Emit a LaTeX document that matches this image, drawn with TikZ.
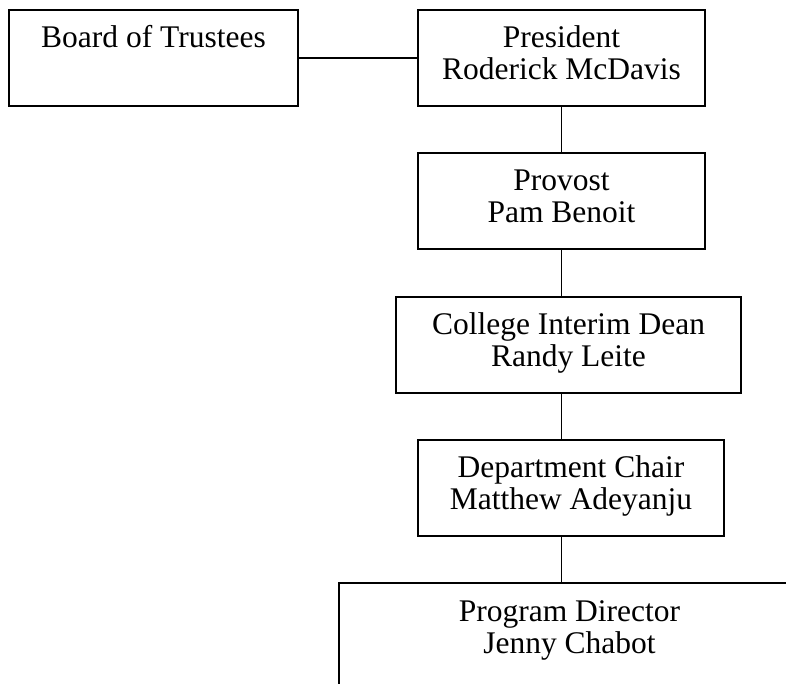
\documentclass[tikz,border=0pt]{standalone}
\usepackage{fontspec}
\setmainfont{Liberation Serif}
\tikzset{
  words/.style={align=center, inner sep=0pt, text height=43pt, text depth=0pt,
    font=\fontsize{31.5}{32}\selectfont},
  post/.style={words, draw, line width=2pt, minimum height=96pt},
  link/.style={line width=1.8pt}
}
\begin{document}
\begin{tikzpicture}[x=1pt,y=-1pt]
  \useasboundingbox (0,0) rectangle (786,683);
  \node[post, minimum width=289pt] (board) at (153.5,58) {Board of Trustees\\ \mbox{}};
  \node[post, minimum width=287pt] (pres) at (561.5,58) {President\\Roderick McDavis};
  \node[post, minimum width=287pt] (prov) at (561.5,201) {Provost\\Pam Benoit};
  \node[post, minimum width=345pt] (dean) at (568.5,345) {College Interim Dean\\Randy Leite};
  \node[post, minimum width=306pt] (chair) at (571,488) {Department Chair\\Matthew Adeyanju};
  % last box runs off the page
  \begin{scope}
    \clip (0,0) rectangle (786,683);
    \node[post, anchor=north west, minimum width=500pt, minimum height=150pt] (prog) at (338,582) {};
  \end{scope}
  \node[words] (progtext) at (569.5,631.5) {Program Director\\Jenny Chabot};
  \draw[link] (board) -- (pres);
  \draw[link] (pres) -- (prov);
  \draw[link] (prov) -- (prov |- dean.north);
  \draw[link] (prov |- dean.south) -- (prov |- chair.north);
  \draw[link] (prov |- chair.south) -- (prov |- prog.north);
\end{tikzpicture}
\end{document}
